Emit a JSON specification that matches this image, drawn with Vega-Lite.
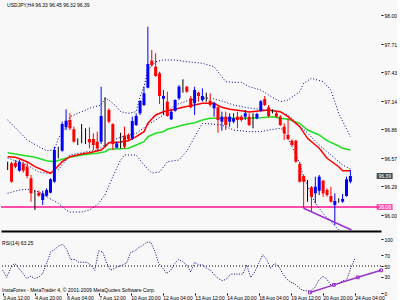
{
"$schema": "https://vega.github.io/schema/vega-lite/v6.json",
"background": "#f8f8f8",
"padding": 0,
"spacing": 3,
"config": {
  "view": {"stroke": null},
  "font": "Liberation Sans",
  "axis": {"grid": false, "title": null, "labelFontSize": 5, "labelColor": "#000000", "tickColor": "#000000", "tickSize": 3, "domain": false, "labelFont": "Liberation Sans", "labelOverlap": false}
},
"datasets": {
  "candles": [
    {"i":0,"o":96.493,"h":96.533,"l":96.45,"c":96.493},
    {"i":1,"o":96.517,"h":96.533,"l":96.323,"c":96.333},
    {"i":2,"o":96.523,"h":96.55,"l":96.467,"c":96.483},
    {"i":3,"o":96.443,"h":96.55,"l":96.433,"c":96.533},
    {"i":4,"o":96.51,"h":96.533,"l":96.423,"c":96.443},
    {"i":5,"o":96.483,"h":96.533,"l":96.367,"c":96.39},
    {"i":6,"o":96.367,"h":96.40,"l":96.133,"c":96.217},
    {"i":7,"o":96.217,"h":96.25,"l":96.05,"c":96.217},
    {"i":8,"o":96.223,"h":96.243,"l":96.183,"c":96.193},
    {"i":9,"o":96.15,"h":96.243,"l":96.10,"c":96.217},
    {"i":10,"o":96.193,"h":96.267,"l":96.183,"c":96.25},
    {"i":11,"o":96.223,"h":96.367,"l":96.217,"c":96.357},
    {"i":12,"o":96.333,"h":96.683,"l":96.323,"c":96.65},
    {"i":13,"o":96.673,"h":96.683,"l":96.567,"c":96.673},
    {"i":14,"o":96.643,"h":96.933,"l":96.633,"c":96.91},
    {"i":15,"o":96.877,"h":97.057,"l":96.85,"c":96.943},
    {"i":16,"o":96.95,"h":97.017,"l":96.85,"c":96.867},
    {"i":17,"o":96.857,"h":96.883,"l":96.723,"c":96.733},
    {"i":18,"o":96.733,"h":96.767,"l":96.70,"c":96.733},
    {"i":19,"o":96.733,"h":96.91,"l":96.717,"c":96.733},
    {"i":20,"o":96.733,"h":96.867,"l":96.71,"c":96.733},
    {"i":21,"o":96.76,"h":96.877,"l":96.667,"c":96.727},
    {"i":22,"o":96.76,"h":96.817,"l":96.65,"c":96.70},
    {"i":23,"o":96.733,"h":96.833,"l":96.643,"c":96.667},
    {"i":24,"o":96.733,"h":97.283,"l":96.71,"c":96.99},
    {"i":25,"o":96.983,"h":97.177,"l":96.683,"c":96.983},
    {"i":26,"o":97.05,"h":97.067,"l":96.917,"c":96.933},
    {"i":27,"o":96.91,"h":96.917,"l":96.65,"c":96.71},
    {"i":28,"o":96.673,"h":96.733,"l":96.667,"c":96.717},
    {"i":29,"o":96.733,"h":96.823,"l":96.667,"c":96.733},
    {"i":30,"o":96.793,"h":96.883,"l":96.667,"c":96.683},
    {"i":31,"o":96.80,"h":96.817,"l":96.743,"c":96.757},
    {"i":32,"o":96.767,"h":96.983,"l":96.75,"c":96.94},
    {"i":33,"o":96.90,"h":97.017,"l":96.89,"c":96.99},
    {"i":34,"o":97.017,"h":97.15,"l":97.00,"c":97.14},
    {"i":35,"o":97.10,"h":97.283,"l":97.09,"c":97.217},
    {"i":36,"o":97.273,"h":97.883,"l":97.267,"c":97.51},
    {"i":37,"o":97.543,"h":97.65,"l":97.483,"c":97.50},
    {"i":38,"o":97.483,"h":97.617,"l":97.383,"c":97.39},
    {"i":39,"o":97.417,"h":97.433,"l":97.11,"c":97.19},
    {"i":40,"o":97.163,"h":97.25,"l":97.00,"c":97.19},
    {"i":41,"o":97.133,"h":97.233,"l":96.983,"c":96.99},
    {"i":42,"o":96.957,"h":97.05,"l":96.95,"c":97.033},
    {"i":43,"o":97.043,"h":97.157,"l":97.033,"c":97.15},
    {"i":44,"o":97.167,"h":97.30,"l":97.15,"c":97.283},
    {"i":45,"o":97.25,"h":97.357,"l":97.223,"c":97.25},
    {"i":46,"o":97.283,"h":97.29,"l":97.223,"c":97.233},
    {"i":47,"o":97.167,"h":97.19,"l":97.067,"c":97.077},
    {"i":48,"o":97.117,"h":97.283,"l":97.00,"c":97.25},
    {"i":49,"o":97.223,"h":97.233,"l":97.133,"c":97.19},
    {"i":50,"o":97.15,"h":97.267,"l":97.133,"c":97.19},
    {"i":51,"o":97.21,"h":97.223,"l":97.133,"c":97.21},
    {"i":52,"o":97.143,"h":97.217,"l":97.083,"c":97.10},
    {"i":53,"o":97.067,"h":97.133,"l":96.983,"c":97.117},
    {"i":54,"o":97.077,"h":97.09,"l":96.823,"c":96.95},
    {"i":55,"o":96.933,"h":97.033,"l":96.843,"c":96.983},
    {"i":56,"o":96.983,"h":97.033,"l":96.85,"c":96.90},
    {"i":57,"o":96.933,"h":97.017,"l":96.883,"c":96.983},
    {"i":58,"o":96.933,"h":97.017,"l":96.917,"c":96.967},
    {"i":59,"o":96.983,"h":97.033,"l":96.867,"c":96.95},
    {"i":60,"o":96.983,"h":97.00,"l":96.933,"c":96.95},
    {"i":61,"o":96.983,"h":97.05,"l":96.95,"c":97.017},
    {"i":62,"o":96.983,"h":97.017,"l":96.89,"c":96.90},
    {"i":63,"o":96.957,"h":97.017,"l":96.867,"c":96.957},
    {"i":64,"o":96.967,"h":97.023,"l":96.957,"c":97.01},
    {"i":65,"o":97.043,"h":97.15,"l":97.033,"c":97.137},
    {"i":66,"o":97.16,"h":97.19,"l":97.09,"c":97.10},
    {"i":67,"o":97.077,"h":97.10,"l":96.977,"c":96.99},
    {"i":68,"o":97.043,"h":97.057,"l":97.017,"c":97.043},
    {"i":69,"o":97.017,"h":97.033,"l":96.977,"c":96.983},
    {"i":70,"o":96.983,"h":97.00,"l":96.89,"c":96.90},
    {"i":71,"o":96.883,"h":96.917,"l":96.75,"c":96.817},
    {"i":72,"o":96.80,"h":96.967,"l":96.75,"c":96.76},
    {"i":73,"o":96.743,"h":96.757,"l":96.69,"c":96.70},
    {"i":74,"o":96.743,"h":96.75,"l":96.523,"c":96.533},
    {"i":75,"o":96.51,"h":96.533,"l":96.323,"c":96.333},
    {"i":76,"o":96.39,"h":96.40,"l":96.067,"c":96.333},
    {"i":77,"o":96.317,"h":96.35,"l":96.133,"c":96.317},
    {"i":78,"o":96.277,"h":96.29,"l":96.033,"c":96.183},
    {"i":79,"o":96.217,"h":96.383,"l":96.117,"c":96.283},
    {"i":80,"o":96.243,"h":96.40,"l":96.20,"c":96.383},
    {"i":81,"o":96.343,"h":96.35,"l":96.183,"c":96.217},
    {"i":82,"o":96.25,"h":96.267,"l":96.183,"c":96.20},
    {"i":83,"o":96.19,"h":96.283,"l":96.123,"c":96.133},
    {"i":84,"o":96.10,"h":96.217,"l":95.90,"c":96.14},
    {"i":85,"o":96.15,"h":96.167,"l":96.123,"c":96.15},
    {"i":86,"o":96.133,"h":96.21,"l":96.123,"c":96.16},
    {"i":87,"o":96.19,"h":96.383,"l":96.183,"c":96.357},
    {"i":88,"o":96.333,"h":96.45,"l":96.317,"c":96.39}
  ],
  "maRed": [
    {"i":0,"p":96.583},{"i":2,"p":96.577},{"i":5,"p":96.533},{"i":7,"p":96.483},{"i":10,"p":96.433},{"i":11,"p":96.417},{"i":12,"p":96.45},{"i":14,"p":96.533},{"i":16,"p":96.583},{"i":19,"p":96.61},{"i":21,"p":96.623},{"i":24,"p":96.65},{"i":25,"p":96.683},{"i":26,"p":96.723},{"i":29,"p":96.73},{"i":31,"p":96.743},{"i":33,"p":96.783},{"i":35,"p":96.833},{"i":36,"p":96.917},{"i":38,"p":97.0},{"i":40,"p":97.033},{"i":41,"p":97.043},{"i":43,"p":97.057},{"i":45,"p":97.077},{"i":48,"p":97.10},{"i":50,"p":97.117},{"i":53,"p":97.117},{"i":55,"p":97.077},{"i":57,"p":97.057},{"i":60,"p":97.043},{"i":62,"p":97.03},{"i":65,"p":97.043},{"i":67,"p":97.05},{"i":70,"p":97.033},{"i":72,"p":96.983},{"i":75,"p":96.883},{"i":77,"p":96.767},{"i":80,"p":96.667},{"i":82,"p":96.567},{"i":85,"p":96.483},{"i":86,"p":96.443},{"i":88,"p":96.443}
  ],
  "maGreen": [
    {"i":0,"p":96.623},{"i":2,"p":96.61},{"i":5,"p":96.59},{"i":7,"p":96.577},{"i":10,"p":96.543},{"i":12,"p":96.533},{"i":14,"p":96.557},{"i":16,"p":96.577},{"i":19,"p":96.60},{"i":21,"p":96.61},{"i":23,"p":96.617},{"i":25,"p":96.633},{"i":26,"p":96.657},{"i":29,"p":96.663},{"i":31,"p":96.667},{"i":33,"p":96.70},{"i":35,"p":96.733},{"i":36,"p":96.783},{"i":38,"p":96.817},{"i":40,"p":96.833},{"i":41,"p":96.857},{"i":43,"p":96.877},{"i":45,"p":96.90},{"i":48,"p":96.923},{"i":50,"p":96.95},{"i":52,"p":96.967},{"i":55,"p":96.967},{"i":58,"p":96.967},{"i":62,"p":96.967},{"i":65,"p":96.973},{"i":68,"p":96.983},{"i":70,"p":96.967},{"i":72,"p":96.957},{"i":75,"p":96.917},{"i":77,"p":96.85},{"i":80,"p":96.80},{"i":82,"p":96.743},{"i":85,"p":96.69},{"i":86,"p":96.667},{"i":88,"p":96.65}
  ],
  "bbUpper": [
    {"i":0,"p":96.95},{"i":3,"p":96.833},{"i":5,"p":96.75},{"i":8,"p":96.683},{"i":10,"p":96.643},{"i":12,"p":96.65},{"i":13,"p":96.767},{"i":15,"p":96.883},{"i":16,"p":96.983},{"i":19,"p":97.033},{"i":21,"p":97.067},{"i":24,"p":97.10},{"i":25,"p":97.167},{"i":26,"p":97.15},{"i":28,"p":97.083},{"i":29,"p":97.033},{"i":31,"p":97.017},{"i":33,"p":97.033},{"i":34,"p":97.183},{"i":35,"p":97.283},{"i":36,"p":97.45},{"i":38,"p":97.533},{"i":40,"p":97.55},{"i":43,"p":97.55},{"i":46,"p":97.533},{"i":50,"p":97.517},{"i":53,"p":97.483},{"i":56,"p":97.333},{"i":58,"p":97.327},{"i":60,"p":97.327},{"i":62,"p":97.283},{"i":65,"p":97.25},{"i":67,"p":97.20},{"i":70,"p":97.133},{"i":72,"p":97.15},{"i":75,"p":97.233},{"i":76,"p":97.317},{"i":78,"p":97.367},{"i":81,"p":97.333},{"i":83,"p":97.25},{"i":85,"p":97.017},{"i":88,"p":96.783}
  ],
  "bbMiddle": [
    {"i":0,"p":96.57},{"i":5,"p":96.50},{"i":8,"p":96.43},{"i":10,"p":96.417},{"i":13,"p":96.45},{"i":16,"p":96.6},{"i":20,"p":96.63},{"i":23,"p":96.65},{"i":27,"p":96.75},{"i":30,"p":96.79},{"i":33,"p":96.817},{"i":36,"p":96.9},{"i":40,"p":97.0},{"i":43,"p":97.1},{"i":46,"p":97.14},{"i":49,"p":97.167},{"i":52,"p":97.17},{"i":55,"p":97.14},{"i":58,"p":97.1},{"i":62,"p":97.07},{"i":66,"p":97.05},{"i":70,"p":97.03},{"i":72,"p":97.0},{"i":74,"p":96.93},{"i":77,"p":96.82},{"i":80,"p":96.7},{"i":83,"p":96.6},{"i":86,"p":96.5},{"i":88,"p":96.46}
  ],
  "bbLower": [
    {"i":0,"p":96.217},{"i":3,"p":96.25},{"i":5,"p":96.257},{"i":8,"p":96.233},{"i":10,"p":96.183},{"i":13,"p":96.117},{"i":15,"p":96.05},{"i":16,"p":96.03},{"i":19,"p":96.03},{"i":21,"p":96.05},{"i":23,"p":96.10},{"i":25,"p":96.2},{"i":27,"p":96.383},{"i":29,"p":96.55},{"i":30,"p":96.6},{"i":33,"p":96.6},{"i":35,"p":96.5},{"i":37,"p":96.42},{"i":39,"p":96.43},{"i":40,"p":96.48},{"i":41,"p":96.533},{"i":44,"p":96.55},{"i":46,"p":96.64},{"i":49,"p":96.85},{"i":50,"p":96.917},{"i":55,"p":96.90},{"i":58,"p":96.85},{"i":62,"p":96.833},{"i":65,"p":96.833},{"i":67,"p":96.85},{"i":70,"p":96.867},{"i":71,"p":96.85},{"i":75,"p":96.517},{"i":76,"p":96.383},{"i":79,"p":96.117},{"i":81,"p":96.017},{"i":85,"p":95.85}
  ],
  "trendMain": [{"i":76,"p":96.067},{"i":88.3,"p":95.85}],
  "level": [{"p":96.08}],
  "tags": [{"p":96.39,"lab":"96.39","k":"bid"},{"p":96.08,"lab":"96.08","k":"lvl"}],
  "rsi": [
    {"i":0,"v":42},{"i":1,"v":29},{"i":2,"v":46},{"i":3,"v":55},{"i":4,"v":46},{"i":5,"v":37},{"i":6,"v":27},{"i":7,"v":31},{"i":8,"v":27},{"i":9,"v":29},
    {"i":10,"v":36},{"i":11,"v":55},{"i":12,"v":76},{"i":13,"v":81},{"i":14,"v":87},{"i":15,"v":90},{"i":16,"v":81},{"i":17,"v":62},{"i":18,"v":62},{"i":19,"v":57},
    {"i":20,"v":57},{"i":21,"v":57},{"i":22,"v":52},{"i":23,"v":42},{"i":24,"v":78},{"i":25,"v":76},{"i":26,"v":55},{"i":27,"v":42},{"i":28,"v":46},{"i":29,"v":49},
    {"i":30,"v":52},{"i":31,"v":56},{"i":32,"v":75},{"i":33,"v":78},{"i":34,"v":84},{"i":35,"v":88},{"i":36,"v":94},{"i":37,"v":94},{"i":38,"v":78},{"i":39,"v":55},
    {"i":40,"v":46},{"i":41,"v":36},{"i":42,"v":42},{"i":43,"v":55},{"i":44,"v":62},{"i":45,"v":58},{"i":46,"v":52},{"i":47,"v":39},{"i":48,"v":57},{"i":49,"v":52},
    {"i":50,"v":52},{"i":51,"v":46},{"i":52,"v":42},{"i":53,"v":33},{"i":54,"v":26},{"i":55,"v":23},{"i":56,"v":26},{"i":57,"v":35},{"i":58,"v":35},{"i":59,"v":35},
    {"i":60,"v":35},{"i":61,"v":52},{"i":62,"v":29},{"i":63,"v":39},{"i":64,"v":55},{"i":65,"v":71},{"i":66,"v":62},{"i":67,"v":46},{"i":68,"v":55},{"i":69,"v":49},
    {"i":70,"v":36},{"i":71,"v":26},{"i":72,"v":20},{"i":73,"v":17},{"i":74,"v":10},{"i":75,"v":5},{"i":76,"v":4},{"i":77,"v":4},{"i":78,"v":10},{"i":79,"v":23},
    {"i":80,"v":31},{"i":81,"v":26},{"i":82,"v":15},{"i":83,"v":17},{"i":84,"v":17},{"i":85,"v":23},{"i":86,"v":24},{"i":87,"v":46},{"i":88,"v":63}
  ],
  "rsiMid": [{"v":50}],
  "trendRsi": [{"i":76.8,"v":1},{"i":82.8,"v":15},{"i":88.8,"v":29},{"i":94.6,"v":42}]
},
"vconcat": [
  {
    "width": 380,
    "height": 231,
    "layer": [
      {
        "data": {"name": "level"},
        "mark": {"type": "rule", "color": "#ff1493", "strokeWidth": 1.5},
        "encoding": {
          "y": {"field": "p", "type": "quantitative",
                "scale": {"domain": [95.84, 98.15], "zero": false, "nice": false},
                "axis": {"orient": "right", "values": [98.0, 97.71, 97.43, 97.14, 96.86, 96.57, 96.29, 96.0], "tickCount": 50, "format": ".2f", "labelPadding": 1, "tickSize": 2}}
        }
      },
      {
        "data": {"name": "bbUpper"},
        "mark": {"type": "line", "color": "#000080", "strokeWidth": 1, "strokeDash": [1, 2]},
        "encoding": {
          "x": {"field": "i", "type": "quantitative", "scale": {"domain": [-0.425, 94.575], "zero": false, "nice": false},
                "axis": {"orient": "bottom", "labels": false, "ticks": false, "domain": true, "domainWidth": 2, "domainColor": "#000000"}},
          "y": {"field": "p", "type": "quantitative"}
        }
      },
      {
        "data": {"name": "bbMiddle"},
        "mark": {"type": "line", "color": "#000080", "strokeWidth": 1, "strokeDash": [1, 2]},
        "encoding": {"x": {"field": "i", "type": "quantitative"}, "y": {"field": "p", "type": "quantitative"}}
      },
      {
        "data": {"name": "bbLower"},
        "mark": {"type": "line", "color": "#000080", "strokeWidth": 1, "strokeDash": [1, 2]},
        "encoding": {"x": {"field": "i", "type": "quantitative"}, "y": {"field": "p", "type": "quantitative"}}
      },
      {
        "data": {"name": "maGreen"},
        "mark": {"type": "line", "color": "#22dd22", "strokeWidth": 1.5},
        "encoding": {"x": {"field": "i", "type": "quantitative"}, "y": {"field": "p", "type": "quantitative"}}
      },
      {
        "data": {"name": "maRed"},
        "mark": {"type": "line", "color": "#ff0000", "strokeWidth": 1.5},
        "encoding": {"x": {"field": "i", "type": "quantitative"}, "y": {"field": "p", "type": "quantitative"}}
      },
      {
        "data": {"name": "candles"},
        "mark": {"type": "rule", "strokeWidth": 1},
        "encoding": {
          "x": {"field": "i", "type": "quantitative"},
          "y": {"field": "l", "type": "quantitative"},
          "y2": {"field": "h"},
          "color": {"condition": [{"test": "datum.c > datum.o", "value": "#0000ff"}, {"test": "datum.c < datum.o", "value": "#ff0000"}], "value": "#000000"}
        }
      },
      {
        "data": {"name": "candles"},
        "mark": {"type": "bar", "size": 3, "minBandSize": 1},
        "encoding": {
          "x": {"field": "i", "type": "quantitative"},
          "y": {"field": "o", "type": "quantitative"},
          "y2": {"field": "c"},
          "color": {"condition": [{"test": "datum.c > datum.o", "value": "#0000ff"}, {"test": "datum.c < datum.o", "value": "#ff0000"}], "value": "#000000"}
        }
      },
      {
        "data": {"name": "trendMain"},
        "mark": {"type": "line", "color": "#9932cc", "strokeWidth": 1.5},
        "encoding": {"x": {"field": "i", "type": "quantitative"}, "y": {"field": "p", "type": "quantitative"}}
      },
      {
        "data": {"name": "tags"},
        "mark": {"type": "tick", "orient": "horizontal", "size": 16, "thickness": 6},
        "encoding": {
          "x": {"datum": 96.8},
          "y": {"field": "p", "type": "quantitative"},
          "color": {"field": "k", "type": "nominal", "scale": {"domain": ["bid", "lvl"], "range": ["#000000", "#ff1493"]}, "legend": null}
        }
      },
      {
        "data": {"name": "tags"},
        "mark": {"type": "text", "color": "#ffffff", "fontSize": 5, "align": "center", "baseline": "middle"},
        "encoding": {
          "x": {"datum": 96.8},
          "y": {"field": "p", "type": "quantitative"},
          "text": {"field": "lab"}
        }
      },
      {
        "data": {"values": [{}]},
        "mark": {"type": "text", "text": "USDJPY,H4  96.33 96.45 96.32 96.39", "align": "left", "baseline": "middle", "fontSize": 5, "color": "#000000", "dx": 1},
        "encoding": {"x": {"datum": -0.4}, "y": {"datum": 98.1}}
      }
    ]
  },
  {
    "width": 380,
    "height": 54,
    "layer": [
      {
        "data": {"name": "rsiMid"},
        "mark": {"type": "rule", "color": "#000000", "strokeDash": [1, 2], "strokeWidth": 1},
        "encoding": {
          "y": {"field": "v", "type": "quantitative", "scale": {"domain": [0, 100], "nice": false},
                "axis": {"orient": "right", "values": [0, 30, 50, 70, 100], "tickCount": 50, "labelPadding": 1, "tickSize": 2}}
        }
      },
      {
        "data": {"name": "rsi"},
        "mark": {"type": "line", "color": "#000080", "strokeWidth": 1, "strokeDash": [1, 1.5]},
        "encoding": {
          "x": {"field": "i", "type": "quantitative", "scale": {"domain": [-0.425, 94.575], "zero": false, "nice": false},
                "axis": {"orient": "bottom", "values": [0, 8, 16, 24, 32, 40, 48, 56, 64, 72, 80, 88], "tickCount": 50,
                         "labelExpr": "['3 Aug 12:00','4 Aug 20:00','6 Aug 04:00','7 Aug 12:00','10 Aug 20:00','12 Aug 04:00','13 Aug 12:00','14 Aug 20:00','18 Aug 04:00','19 Aug 12:00','20 Aug 20:00','24 Aug 04:00'][datum.value / 8]",
                         "labelAlign": "left", "labelBaseline": "top", "labelPadding": 0, "labelFlush": false, "labelOverlap": false, "tickSize": 2, "labelFontSize": 5}},
          "y": {"field": "v", "type": "quantitative"}
        }
      },
      {
        "data": {"name": "trendRsi"},
        "mark": {"type": "line", "color": "#9932cc", "strokeWidth": 1.5, "point": {"shape": "square", "size": 8, "filled": false, "color": "#9932cc", "strokeWidth": 1}},
        "encoding": {"x": {"field": "i", "type": "quantitative"}, "y": {"field": "v", "type": "quantitative"}}
      },
      {
        "data": {"values": [{}]},
        "mark": {"type": "text", "text": "RSI(14) 63.25", "align": "left", "baseline": "middle", "fontSize": 5, "color": "#000000", "dx": 1},
        "encoding": {"x": {"datum": -0.4}, "y": {"datum": 93}}
      },
      {
        "data": {"values": [{}]},
        "mark": {"type": "text", "text": "InstaForex - MetaTrader 4, © 2001-2009 MetaQuotes Software Corp.", "align": "left", "baseline": "middle", "fontSize": 5, "color": "#000000", "dx": 1},
        "encoding": {"x": {"datum": -0.4}, "y": {"datum": 5}}
      }
    ]
  }
]
}
